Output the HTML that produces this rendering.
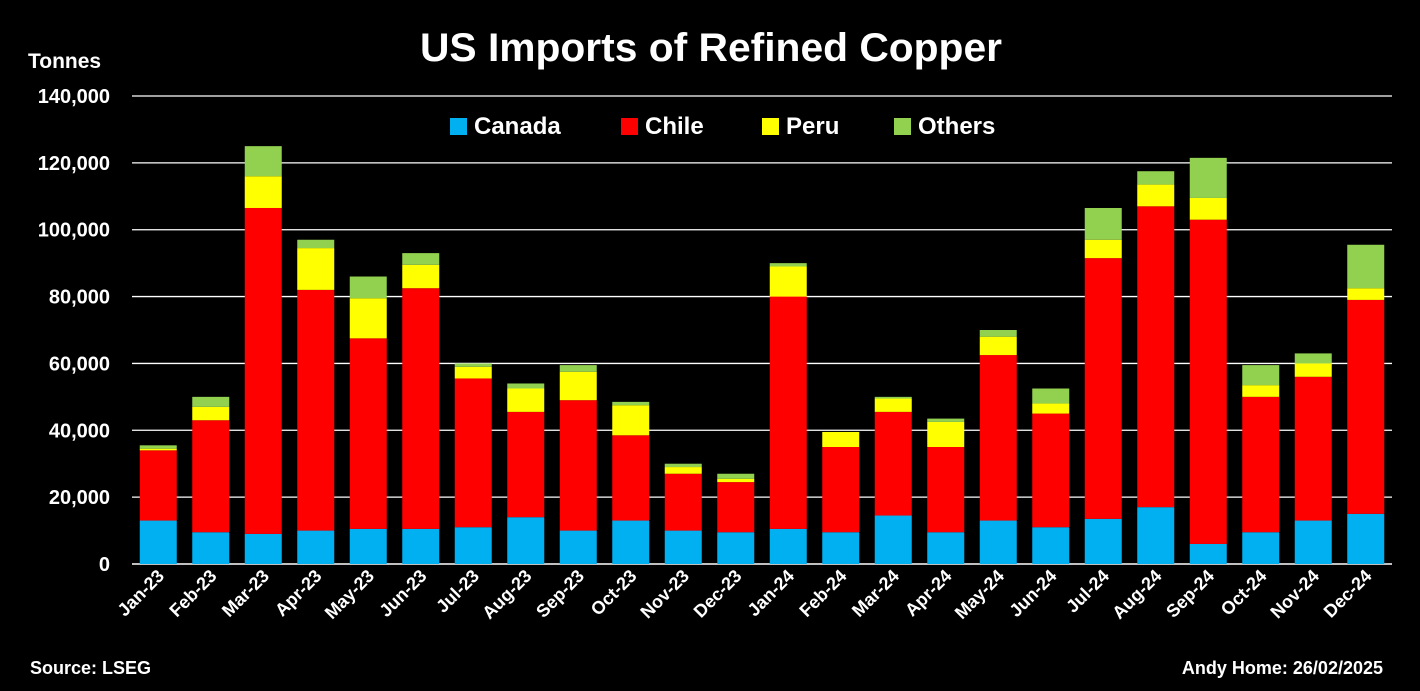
<!DOCTYPE html>
<html><head><meta charset="utf-8"><style>
body{margin:0;background:#000;width:1420px;height:686px;overflow:hidden;font-family:"Liberation Sans",sans-serif;}
svg text{font-family:"Liberation Sans",sans-serif;font-weight:bold;fill:#fff;}
</style></head><body>
<svg id="chart" width="1420" height="686" xmlns="http://www.w3.org/2000/svg">
<text x="711" y="61" text-anchor="middle" font-size="40" textLength="582" lengthAdjust="spacingAndGlyphs">US Imports of Refined Copper</text>
<text x="28" y="68" font-size="21">Tonnes</text>
<text x="30" y="674" font-size="18">Source: LSEG</text>
<text x="1383" y="674" font-size="18" text-anchor="end">Andy Home: 26/02/2025</text>
<g id="grid"></g><g id="bars"></g><g id="xlabels"></g>
<g font-size="24">
<rect x="450" y="118" width="17" height="17" fill="#00b0f0"/><text x="474" y="134">Canada</text>
<rect x="621" y="118" width="17" height="17" fill="#ff0000"/><text x="645" y="134">Chile</text>
<rect x="762" y="118" width="17" height="17" fill="#ffff00"/><text x="786" y="134">Peru</text>
<rect x="894" y="118" width="17" height="17" fill="#92d050"/><text x="918" y="134">Others</text>
</g>
</svg>
<script>
const categories=["Jan-23","Feb-23","Mar-23","Apr-23","May-23","Jun-23","Jul-23","Aug-23","Sep-23","Oct-23","Nov-23","Dec-23","Jan-24","Feb-24","Mar-24","Apr-24","May-24","Jun-24","Jul-24","Aug-24","Sep-24","Oct-24","Nov-24","Dec-24"];
const canada=[13000,9500,9000,10000,10500,10500,11000,14000,10000,13000,10000,9500,10500,9500,14500,9500,13000,11000,13500,17000,6000,9500,13000,15000];
const chile=[21000,33500,97500,72000,57000,72000,44500,31500,39000,25500,17000,15000,69500,25500,31000,25500,49500,34000,78000,90000,97000,40500,43000,64000];
const peru=[500,4000,9500,12500,12000,7000,3500,7000,8500,9000,2000,1000,9000,4500,4000,7500,5500,3000,5500,6500,6500,3500,4000,3500];
const others=[1000,3000,9000,2500,6500,3500,1000,1500,2000,1000,1000,1500,1000,0,500,1000,2000,4500,9500,4000,12000,6000,3000,13000];
const yTicks=[0,20000,40000,60000,80000,100000,120000,140000];
const seriesList=[["canada",canada,"#00b0f0"],["chile",chile,"#ff0000"],["peru",peru,"#ffff00"],["others",others,"#92d050"]];
const NS="http://www.w3.org/2000/svg";
const x0=132,x1=1392,y0=564,yTop=96,yMax=140000;
const y=v=>y0-(v/yMax)*(y0-yTop);
const band=(x1-x0)/categories.length;
const xc=i=>x0+band*(i+0.5);
const bw=37;
const grid=document.getElementById('grid'),bars=document.getElementById('bars'),xl=document.getElementById('xlabels');
yTicks.forEach(t=>{
 if(t>0){const l=document.createElementNS(NS,'line');
 
 
 l.setAttribute('x1',x0);l.setAttribute('x2',x1);l.setAttribute('y1',y(t));l.setAttribute('y2',y(t));l.setAttribute('stroke','#fff');l.setAttribute('stroke-width','1.3');grid.appendChild(l);}
 const tx=document.createElementNS(NS,'text');
 
 
 tx.setAttribute('x',110);tx.setAttribute('y',y(t)+7);tx.setAttribute('text-anchor','end');tx.setAttribute('font-size','20');
 tx.textContent=t.toLocaleString('en-US');grid.appendChild(tx);
});
const ax=document.createElementNS(NS,'line');


ax.setAttribute('x1',x0);ax.setAttribute('x2',x1);ax.setAttribute('y1',y0);ax.setAttribute('y2',y0);ax.setAttribute('stroke','#fff');ax.setAttribute('stroke-width','1.5');grid.appendChild(ax);
categories.forEach((c,i)=>{
 let acc=0;
 seriesList.forEach(([name,arr,col])=>{
  const v=arr[i];const r=document.createElementNS(NS,'rect');
  
  
  r.setAttribute('x',xc(i)-bw/2);r.setAttribute('width',bw);r.setAttribute('y',y(acc+v));r.setAttribute('height',y(acc)-y(acc+v));r.setAttribute('fill',col);
  bars.appendChild(r);acc+=v;
 });
 const t=document.createElementNS(NS,'text');
 
 
 const tx=xc(i)+7,ty=577;
 t.setAttribute('x',tx);t.setAttribute('y',ty);t.setAttribute('text-anchor','end');t.setAttribute('font-size','18');
 t.setAttribute('transform','rotate(-45 '+tx+' '+ty+')');t.textContent=c;xl.appendChild(t);
});
</script>
</body></html>
